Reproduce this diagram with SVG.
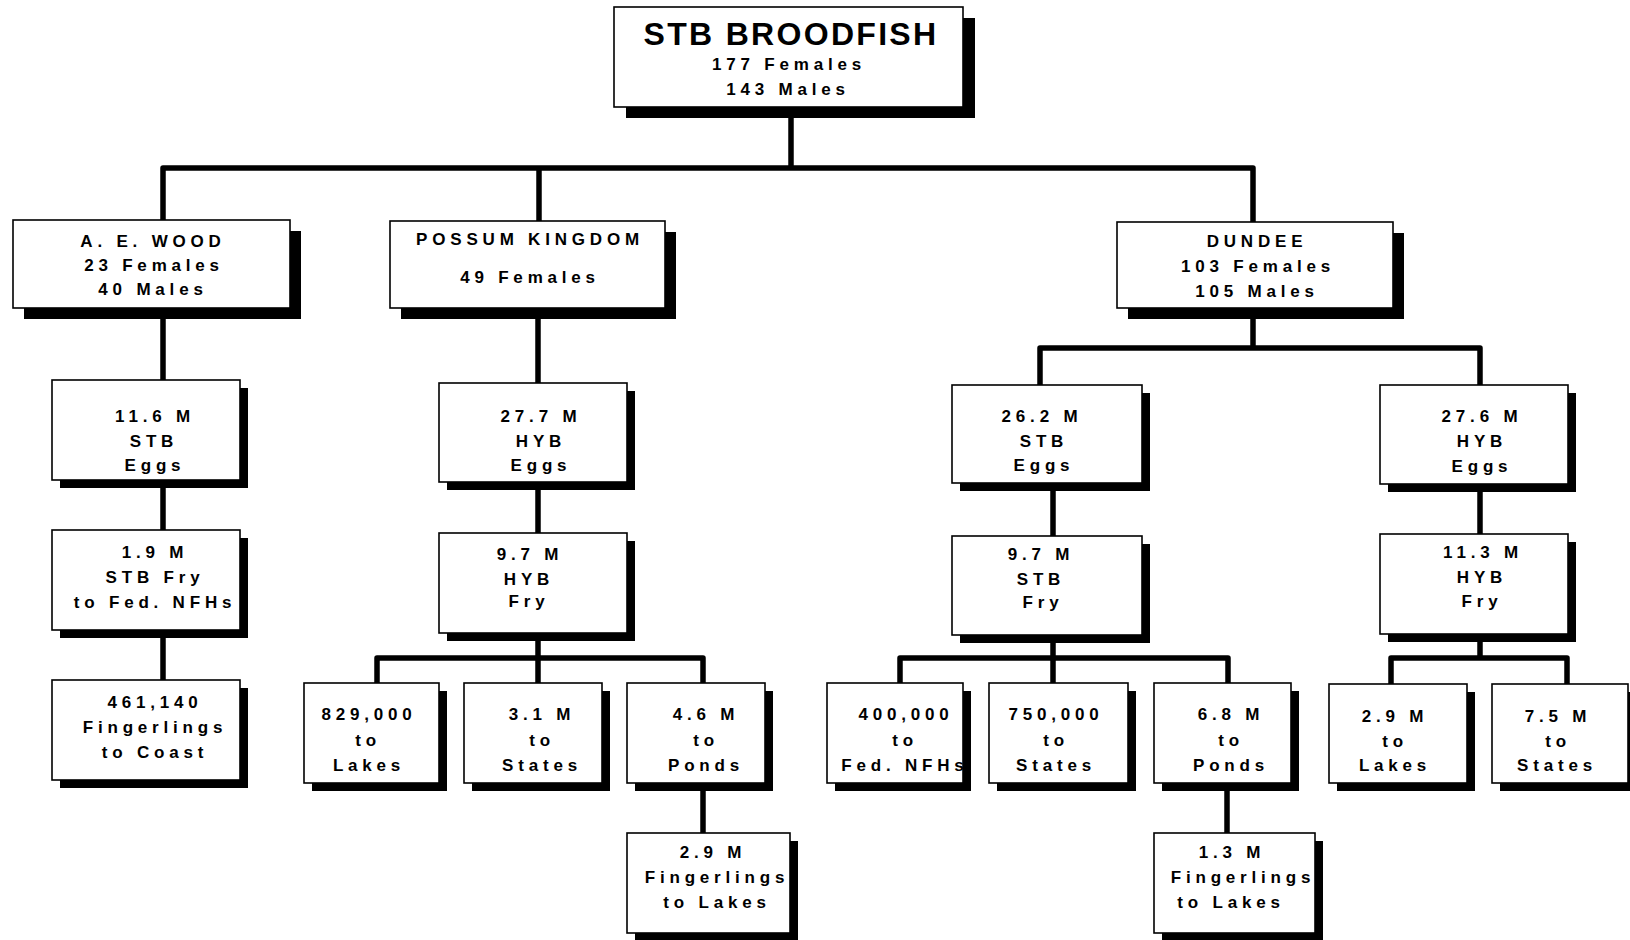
<svg xmlns="http://www.w3.org/2000/svg" width="1630" height="940" viewBox="0 0 1630 940">
<style>
.sh{fill:#000}
.bx{fill:#fff;stroke:#000;stroke-width:1.6}
.t{font-family:"Liberation Sans",Arial,Helvetica,sans-serif;font-weight:bold;font-size:17px;letter-spacing:4.8px;text-anchor:middle;fill:#000}
.title{font-family:"Liberation Sans",Arial,Helvetica,sans-serif;font-weight:bold;font-size:32px;letter-spacing:2.3px;text-anchor:middle;fill:#000}
.c{fill:none;stroke:#000;stroke-width:5.5;stroke-linejoin:round}
</style>
<rect width="1630" height="940" fill="#fff"/>
<g id="connectors">
<path class="c" d="M791,107 V168"/>
<path class="c" d="M163,220 V168 H1253 V222"/>
<path class="c" d="M539,168 V221"/>
<path class="c" d="M163,308 V380 M163,480 V530 M163,630 V680"/>
<path class="c" d="M538,308 V383 M538,482 V533 M538,633 V683"/>
<path class="c" d="M377,683 V658 H703 V683"/>
<path class="c" d="M703,783 V833"/>
<path class="c" d="M1253,308 V348"/>
<path class="c" d="M1040,385 V348 H1480 V385"/>
<path class="c" d="M1053,483 V536 M1053,635 V683"/>
<path class="c" d="M900,683 V658 H1228 V683"/>
<path class="c" d="M1227,783 V833"/>
<path class="c" d="M1480,484 V534 M1480,634 V658"/>
<path class="c" d="M1391,684 V658 H1567 V684"/>
</g>
<g id="root">
<rect class="sh" x="626" y="18" width="349" height="100"/>
<rect class="bx" x="614" y="7" width="349" height="100"/>
<text class="title" x="791" y="45">STB BROODFISH</text>
<text class="t"><tspan x="789" y="70">177 Females</tspan><tspan x="788" y="95">143 Males</tspan></text>
</g>
<g id="aewood">
<rect class="sh" x="24" y="231" width="277" height="88"/>
<rect class="bx" x="13" y="220" width="277" height="88"/>
<text class="t"><tspan x="153" y="247">A. E. WOOD</tspan><tspan x="154" y="271">23 Females</tspan><tspan x="153" y="295">40 Males</tspan></text>
</g>
<g id="possum">
<rect class="sh" x="401" y="232" width="275" height="87"/>
<rect class="bx" x="390" y="221" width="275" height="87"/>
<text class="t"><tspan x="530" y="245">POSSUM KINGDOM</tspan><tspan x="530" y="283">49 Females</tspan></text>
</g>
<g id="dundee">
<rect class="sh" x="1128" y="233" width="276" height="86"/>
<rect class="bx" x="1117" y="222" width="276" height="86"/>
<text class="t"><tspan x="1257" y="247">DUNDEE</tspan><tspan x="1258" y="272">103 Females</tspan><tspan x="1257" y="297">105 Males</tspan></text>
</g>
<g id="stb-eggs-aew">
<rect class="sh" x="60" y="388" width="188" height="100"/>
<rect class="bx" x="52" y="380" width="188" height="100"/>
<text class="t"><tspan x="155" y="422">11.6 M</tspan><tspan x="154" y="447">STB</tspan><tspan x="155" y="471">Eggs</tspan></text>
</g>
<g id="stb-fry-aew">
<rect class="sh" x="60" y="538" width="188" height="100"/>
<rect class="bx" x="52" y="530" width="188" height="100"/>
<text class="t"><tspan x="155" y="558">1.9 M</tspan><tspan x="155" y="583">STB Fry</tspan><tspan x="155" y="608">to Fed. NFHs</tspan></text>
</g>
<g id="fing-coast">
<rect class="sh" x="60" y="688" width="188" height="100"/>
<rect class="bx" x="52" y="680" width="188" height="100"/>
<text class="t"><tspan x="155" y="708">461,140</tspan><tspan x="155" y="733">Fingerlings</tspan><tspan x="155" y="758">to Coast</tspan></text>
</g>
<g id="hyb-eggs-pk">
<rect class="sh" x="447" y="391" width="188" height="99"/>
<rect class="bx" x="439" y="383" width="188" height="99"/>
<text class="t"><tspan x="541" y="422">27.7 M</tspan><tspan x="541" y="447">HYB</tspan><tspan x="541" y="471">Eggs</tspan></text>
</g>
<g id="hyb-fry-pk">
<rect class="sh" x="447" y="541" width="188" height="100"/>
<rect class="bx" x="439" y="533" width="188" height="100"/>
<text class="t"><tspan x="530" y="560">9.7 M</tspan><tspan x="529" y="585">HYB</tspan><tspan x="529" y="607">Fry</tspan></text>
</g>
<g id="pk-lakes">
<rect class="sh" x="312" y="691" width="135" height="100"/>
<rect class="bx" x="304" y="683" width="135" height="100"/>
<text class="t"><tspan x="369" y="720">829,000</tspan><tspan x="368" y="746">to</tspan><tspan x="369" y="771">Lakes</tspan></text>
</g>
<g id="pk-states">
<rect class="sh" x="472" y="691" width="138" height="100"/>
<rect class="bx" x="464" y="683" width="138" height="100"/>
<text class="t"><tspan x="542" y="720">3.1 M</tspan><tspan x="542" y="746">to</tspan><tspan x="542" y="771">States</tspan></text>
</g>
<g id="pk-ponds">
<rect class="sh" x="635" y="691" width="138" height="100"/>
<rect class="bx" x="627" y="683" width="138" height="100"/>
<text class="t"><tspan x="706" y="720">4.6 M</tspan><tspan x="706" y="746">to</tspan><tspan x="706" y="771">Ponds</tspan></text>
</g>
<g id="pk-fing">
<rect class="sh" x="635" y="841" width="163" height="100"/>
<rect class="bx" x="627" y="833" width="163" height="100"/>
<text class="t"><tspan x="713" y="858">2.9 M</tspan><tspan x="717" y="883">Fingerlings</tspan><tspan x="717" y="908">to Lakes</tspan></text>
</g>
<g id="stb-eggs-dd">
<rect class="sh" x="960" y="393" width="190" height="98"/>
<rect class="bx" x="952" y="385" width="190" height="98"/>
<text class="t"><tspan x="1042" y="422">26.2 M</tspan><tspan x="1044" y="447">STB</tspan><tspan x="1044" y="471">Eggs</tspan></text>
</g>
<g id="stb-fry-dd">
<rect class="sh" x="960" y="544" width="190" height="99"/>
<rect class="bx" x="952" y="536" width="190" height="99"/>
<text class="t"><tspan x="1041" y="560">9.7 M</tspan><tspan x="1041" y="585">STB</tspan><tspan x="1043" y="608">Fry</tspan></text>
</g>
<g id="dd-nfh">
<rect class="sh" x="835" y="691" width="136" height="100"/>
<rect class="bx" x="827" y="683" width="136" height="100"/>
<text class="t"><tspan x="906" y="720">400,000</tspan><tspan x="905" y="746">to</tspan><tspan x="905" y="771">Fed. NFHs</tspan></text>
</g>
<g id="dd-states">
<rect class="sh" x="997" y="691" width="139" height="100"/>
<rect class="bx" x="989" y="683" width="139" height="100"/>
<text class="t"><tspan x="1056" y="720">750,000</tspan><tspan x="1056" y="746">to</tspan><tspan x="1056" y="771">States</tspan></text>
</g>
<g id="dd-ponds">
<rect class="sh" x="1162" y="691" width="137" height="100"/>
<rect class="bx" x="1154" y="683" width="137" height="100"/>
<text class="t"><tspan x="1231" y="720">6.8 M</tspan><tspan x="1231" y="746">to</tspan><tspan x="1231" y="771">Ponds</tspan></text>
</g>
<g id="dd-fing">
<rect class="sh" x="1162" y="841" width="161" height="100"/>
<rect class="bx" x="1154" y="833" width="161" height="100"/>
<text class="t"><tspan x="1232" y="858">1.3 M</tspan><tspan x="1243" y="883">Fingerlings</tspan><tspan x="1231" y="908">to Lakes</tspan></text>
</g>
<g id="hyb-eggs-dd">
<rect class="sh" x="1388" y="393" width="188" height="99"/>
<rect class="bx" x="1380" y="385" width="188" height="99"/>
<text class="t"><tspan x="1482" y="422">27.6 M</tspan><tspan x="1482" y="447">HYB</tspan><tspan x="1482" y="472">Eggs</tspan></text>
</g>
<g id="hyb-fry-dd">
<rect class="sh" x="1388" y="542" width="188" height="100"/>
<rect class="bx" x="1380" y="534" width="188" height="100"/>
<text class="t"><tspan x="1483" y="558">11.3 M</tspan><tspan x="1482" y="583">HYB</tspan><tspan x="1482" y="607">Fry</tspan></text>
</g>
<g id="dd-lakes">
<rect class="sh" x="1337" y="692" width="138" height="99"/>
<rect class="bx" x="1329" y="684" width="138" height="99"/>
<text class="t"><tspan x="1395" y="722">2.9 M</tspan><tspan x="1395" y="747">to</tspan><tspan x="1395" y="771">Lakes</tspan></text>
</g>
<g id="dd-states2">
<rect class="sh" x="1500" y="692" width="136" height="99"/>
<rect class="bx" x="1492" y="684" width="136" height="99"/>
<text class="t"><tspan x="1558" y="722">7.5 M</tspan><tspan x="1558" y="747">to</tspan><tspan x="1557" y="771">States</tspan></text>
</g>
</svg>
